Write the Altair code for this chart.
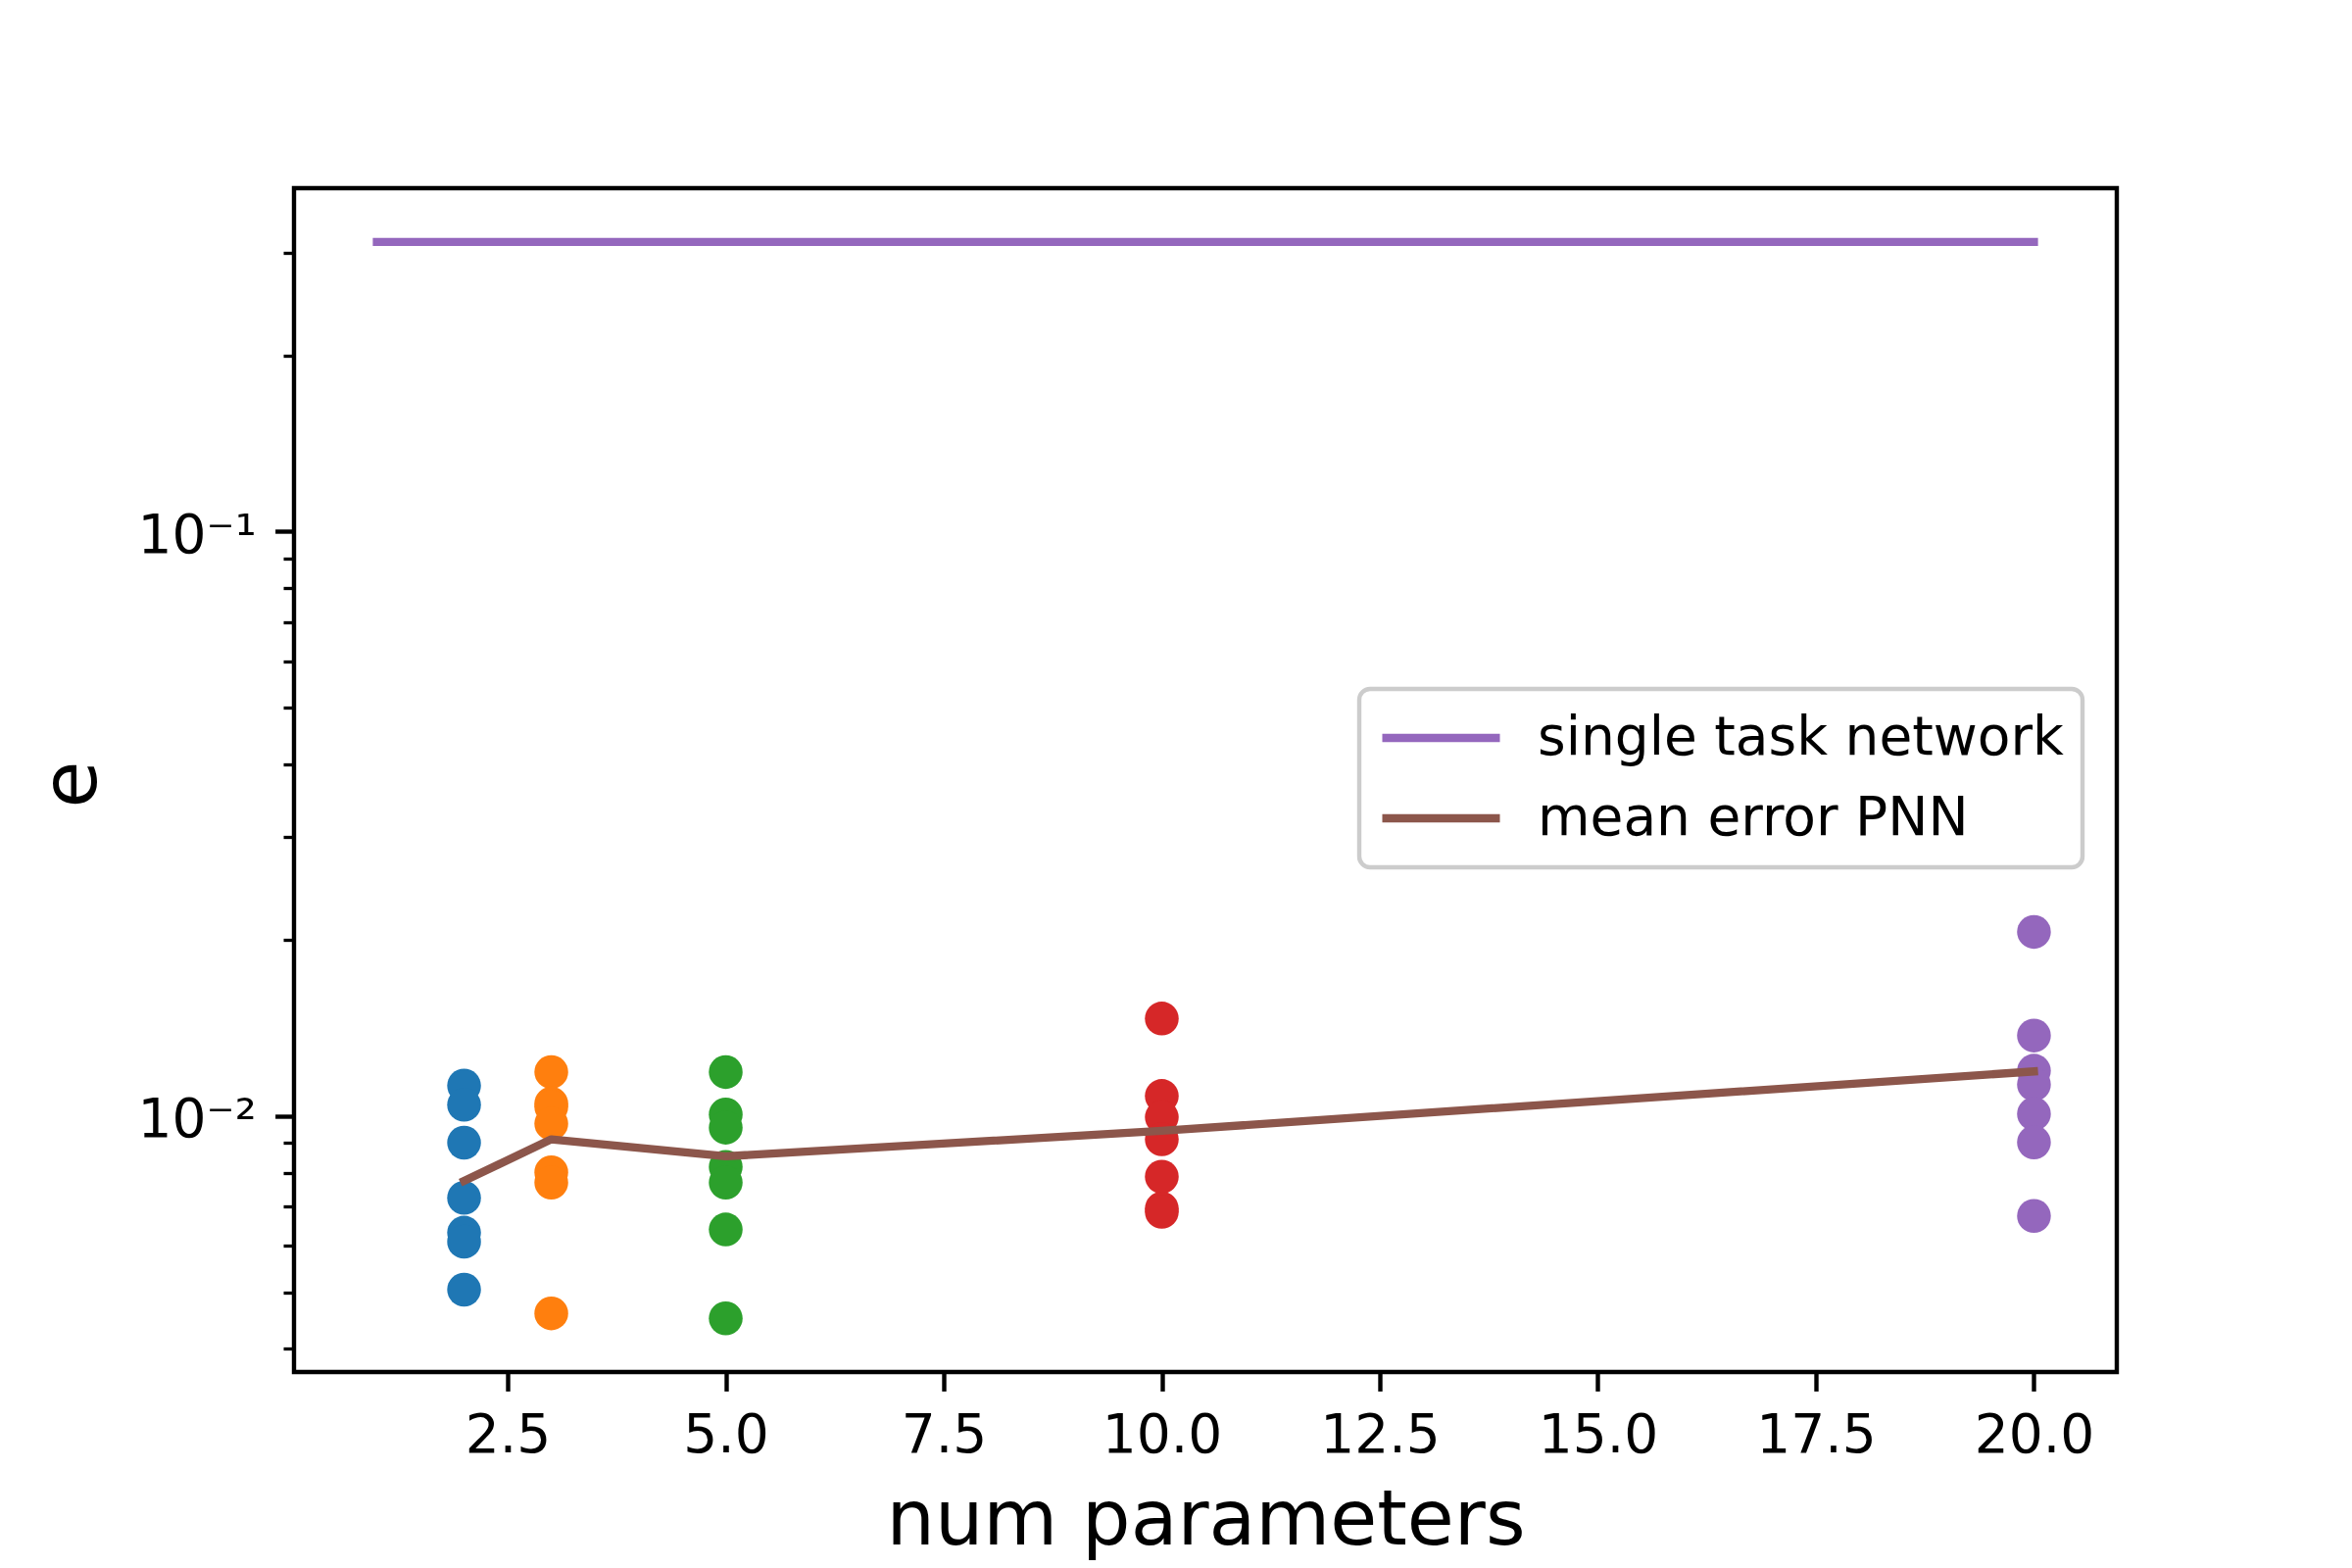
import altair as alt
import pandas as pd

# ---- data ----
num_params = [2, 3, 5, 10, 20]
err_p2 = [0.01128, 0.01046, 0.00901, 0.00725, 0.00632, 0.00610, 0.00505]
err_p3 = [0.0119, 0.01051, 0.01038, 0.00971, 0.00802, 0.00770, 0.00460]
err_p5 = [0.0119, 0.01007, 0.00956, 0.00819, 0.00770, 0.00640, 0.00451]
err_p10 = [0.01469, 0.01083, 0.00996, 0.00913, 0.00788, 0.00695, 0.00686]
err_p20 = [0.02067, 0.01374, 0.01196, 0.01133, 0.01009, 0.00902, 0.00675]
group_colors = ["#1f77b4", "#ff7f0e", "#2ca02c", "#d62728", "#9467bd"]

mean_err = [0.00775, 0.00913, 0.00854, 0.00944, 0.01193]
single_x = [1, 20]
single_err = [0.3131, 0.3131]

series_names = ["single task network", "mean error PNN"]
series_colors = ["#9467bd", "#8c564b"]

x_ticks = [2.5, 5.0, 7.5, 10.0, 12.5, 15.0, 17.5, 20.0]
y_ticks = [0.004, 0.005, 0.006, 0.007, 0.008, 0.009, 0.01,
           0.02, 0.03, 0.04, 0.05, 0.06, 0.07, 0.08, 0.09, 0.1,
           0.2, 0.3]

# ---- tables ----
groups = [err_p2, err_p3, err_p5, err_p10, err_p20]
pts_rows = []
for p, vals, col in zip(num_params, groups, group_colors):
    for v in vals:
        pts_rows.append({"x": p, "e": v, "c": col})
pts = pd.DataFrame(pts_rows)

line_rows = []
for xv, ev in zip(single_x, single_err):
    line_rows.append({"x": xv, "e": ev, "series": series_names[0]})
for xv, ev in zip(num_params, mean_err):
    line_rows.append({"x": xv, "e": ev, "series": series_names[1]})
lines = pd.DataFrame(line_rows)

FONT = "DejaVu Sans"
W, H = 1860, 1208

xscale = alt.Scale(domain=[0.05, 20.95], nice=False, zero=False)
yscale = alt.Scale(type="log", domain=[0.003651, 0.3869], nice=False)

major_test = "datum.value === 0.1 || datum.value === 0.01"

xaxis = alt.Axis(
    values=x_ticks, format=".1f", tickSize=19.4, tickWidth=4.4, tickColor="black",
    labelFontSize=55, labelFont=FONT, labelColor="black", labelPadding=19.4,
    labelFlush=False, labelOverlap=False, domain=False, grid=False,
    title="num parameters", titleFont=FONT, titleFontSize=78, titleFontWeight="normal",
    titleColor="black", titleX=W / 2, titleY=175, titleBaseline="alphabetic",
)

yaxis = alt.Axis(
    values=y_ticks,
    labelExpr="datum.value === 0.1 ? '10⁻¹' : (datum.value === 0.01 ? '10⁻²' : '')",
    tickSize={"condition": {"test": major_test, "value": 19.4}, "value": 11},
    tickWidth={"condition": {"test": major_test, "value": 4.4}, "value": 3.3},
    tickColor="black",
    labelFontSize=55, labelFont=FONT, labelColor="black", labelPadding=19.4,
    labelOffset=4, labelOverlap=False, labelFlush=False, domain=False, grid=False,
    title="e", titleFont=FONT, titleFontSize=78, titleFontWeight="normal",
    titleColor="black", titleX=-203, titleY=H / 2 + 4, titleBaseline="alphabetic",
    titleAngle=270,
)

points = alt.Chart(pts).mark_circle(size=1190, opacity=1).encode(
    x=alt.X("x:Q", scale=xscale, axis=xaxis),
    y=alt.Y("e:Q", scale=yscale, axis=yaxis),
    color=alt.Color("c:N", scale=None),
)

line_layer = alt.Chart(lines).mark_line(
    strokeWidth=8.3, strokeCap="square", strokeJoin="round"
).encode(
    x=alt.X("x:Q", scale=xscale),
    y=alt.Y("e:Q", scale=yscale),
    stroke=alt.Stroke(
        "series:N",
        scale=alt.Scale(domain=series_names, range=series_colors),
        legend=alt.Legend(
            title=None, orient="none", legendX=1087, legendY=511,
            symbolType="stroke", symbolSize=14400, symbolStrokeWidth=8.3,
            symbolOffset=0, padding=19, clipHeight=62, rowPadding=20,
            labelFontSize=55, labelFont=FONT, labelColor="black",
            labelOffset=34, labelLimit=2000,
            fillColor="white", strokeColor="#cccccc", cornerRadius=11,
        ),
    ),
)

chart = alt.layer(points, line_layer).properties(
    width=W, height=H,
    autosize=alt.AutoSizeParams(type="none"),
    padding={"left": 292, "top": 184, "right": 232, "bottom": 192},
).configure(
    font=FONT,
).configure_view(
    stroke="black", strokeWidth=4.4,
).configure_legend(
    strokeWidth=4.4,
)

chart.save("out.html", embed_options={"renderer": "svg", "actions": False})
